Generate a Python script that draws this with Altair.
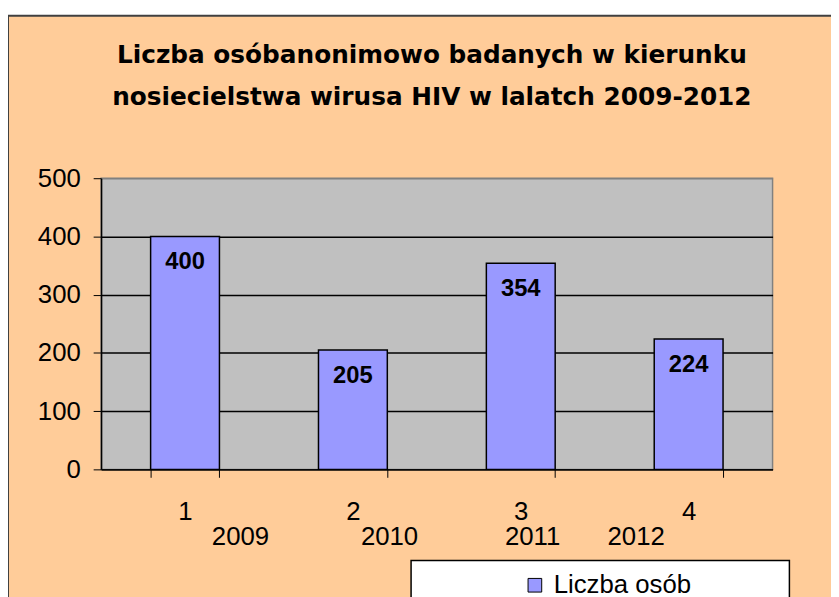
import altair as alt
import pandas as pd

nums = ["1", "2", "3", "4"]
years = ["2009", "2010", "2011", "2012"]
values = [400, 205, 354, 224]
series = "Liczba osób"
title_lines = ["Liczba osóbanonimowo badanych w kierunku",
               "nosiecielstwa wirusa HIV w lalatch 2009-2012"]

df = pd.DataFrame({"num": nums, "year": years, "value": values, "series": [series] * 4})

FONT = "Liberation Sans"
W, H = 678, 294

xscale = alt.Scale(domain=nums, paddingInner=0.59, paddingOuter=0.295)
yscale = alt.Scale(domain=[0, 500], nice=False)

base = alt.Chart(df)

bars = base.mark_bar(stroke="black", strokeWidth=1.5).encode(
    x=alt.X("num:N", scale=xscale, title=None,
            axis=alt.Axis(labelAngle=0, labelFont=FONT, labelFontSize=26, labelColor="black",
                          tickBand="extent", tickSize=8, tickColor="black", domainColor="black",
                          domainWidth=1.5, labelPadding=22, labelBaseline="top", zindex=1)),
    y=alt.Y("value:Q", scale=yscale, title=None,
            axis=alt.Axis(values=[0, 100, 200, 300, 400, 500], labelFont=FONT, labelFontSize=26,
                          labelColor="black", tickSize=8, tickColor="black", domainColor="black",
                          domainWidth=1.5, labelPadding=13, grid=True,
                          gridColor={"condition": {"test": "datum.value === 500", "value": "#808080"},
                                     "value": "black"},
                          gridWidth=1.5)),
    color=alt.Color("series:N", scale=alt.Scale(range=["#9999FF"]), title=None,
                    legend=alt.Legend(orient="none", legendX=425, legendY=398, padding=0,
                                      symbolType="square", symbolSize=190,
                                      symbolStrokeColor="black", symbolStrokeWidth=1,
                                      symbolOpacity=1,
                                      labelFont=FONT, labelFontSize=26, labelColor="black",
                                      labelOffset=6)),
)

labels = base.mark_text(font=FONT, fontSize=24, fontWeight="bold", color="black",
                        baseline="top", dy=14).encode(
    x=alt.X("num:N", scale=xscale),
    y=alt.Y("value:Q", scale=yscale),
    text=alt.Text("value:Q"),
)

year_dx = [56, 37, 12, -53]
year_layers = []
for yr, dx in zip(years, year_dx):
    year_layers.append(
        base.transform_filter(alt.datum.year == yr).mark_text(
            font=FONT, fontSize=26, color="black", baseline="alphabetic", dx=dx
        ).encode(x=alt.X("num:N", scale=xscale), y=alt.value(370), text="year:N")
    )

one = alt.Data(values=[{"k": 1}])
legend_box = alt.Chart(one).mark_rect(fill="white", stroke="black", strokeWidth=1.5).encode(
    x=alt.value(313), x2=alt.value(695), y=alt.value(386), y2=alt.value(460))
white_strip = alt.Chart(one).mark_rect(fill="white").encode(
    x=alt.value(-100), x2=alt.value(760), y=alt.value(-175), y2=alt.value(-164))
outer_border = alt.Chart(one).mark_rect(fillOpacity=0, stroke="#404040", strokeWidth=2).encode(
    x=alt.value(-94), x2=alt.value(800), y=alt.value(-164), y2=alt.value(500))

chart = alt.layer(
    white_strip, outer_border, legend_box, bars, labels, *year_layers
).properties(
    width=W, height=H,
    autosize=alt.AutoSizeParams(type="none"),
    padding={"left": 94, "top": 169, "right": 59, "bottom": 126},
    background="#FFCC99",
    title=alt.TitleParams(text=title_lines, font="DejaVu Sans", fontSize=25, fontWeight="bold",
                          color="black", anchor="middle", lineHeight=42, offset=-106, dx=-5),
).configure_view(
    fill="#C0C0C0", stroke="#808080", strokeWidth=1.5
)

chart.save("out.html", embed_options={"renderer": "svg", "actions": False})
